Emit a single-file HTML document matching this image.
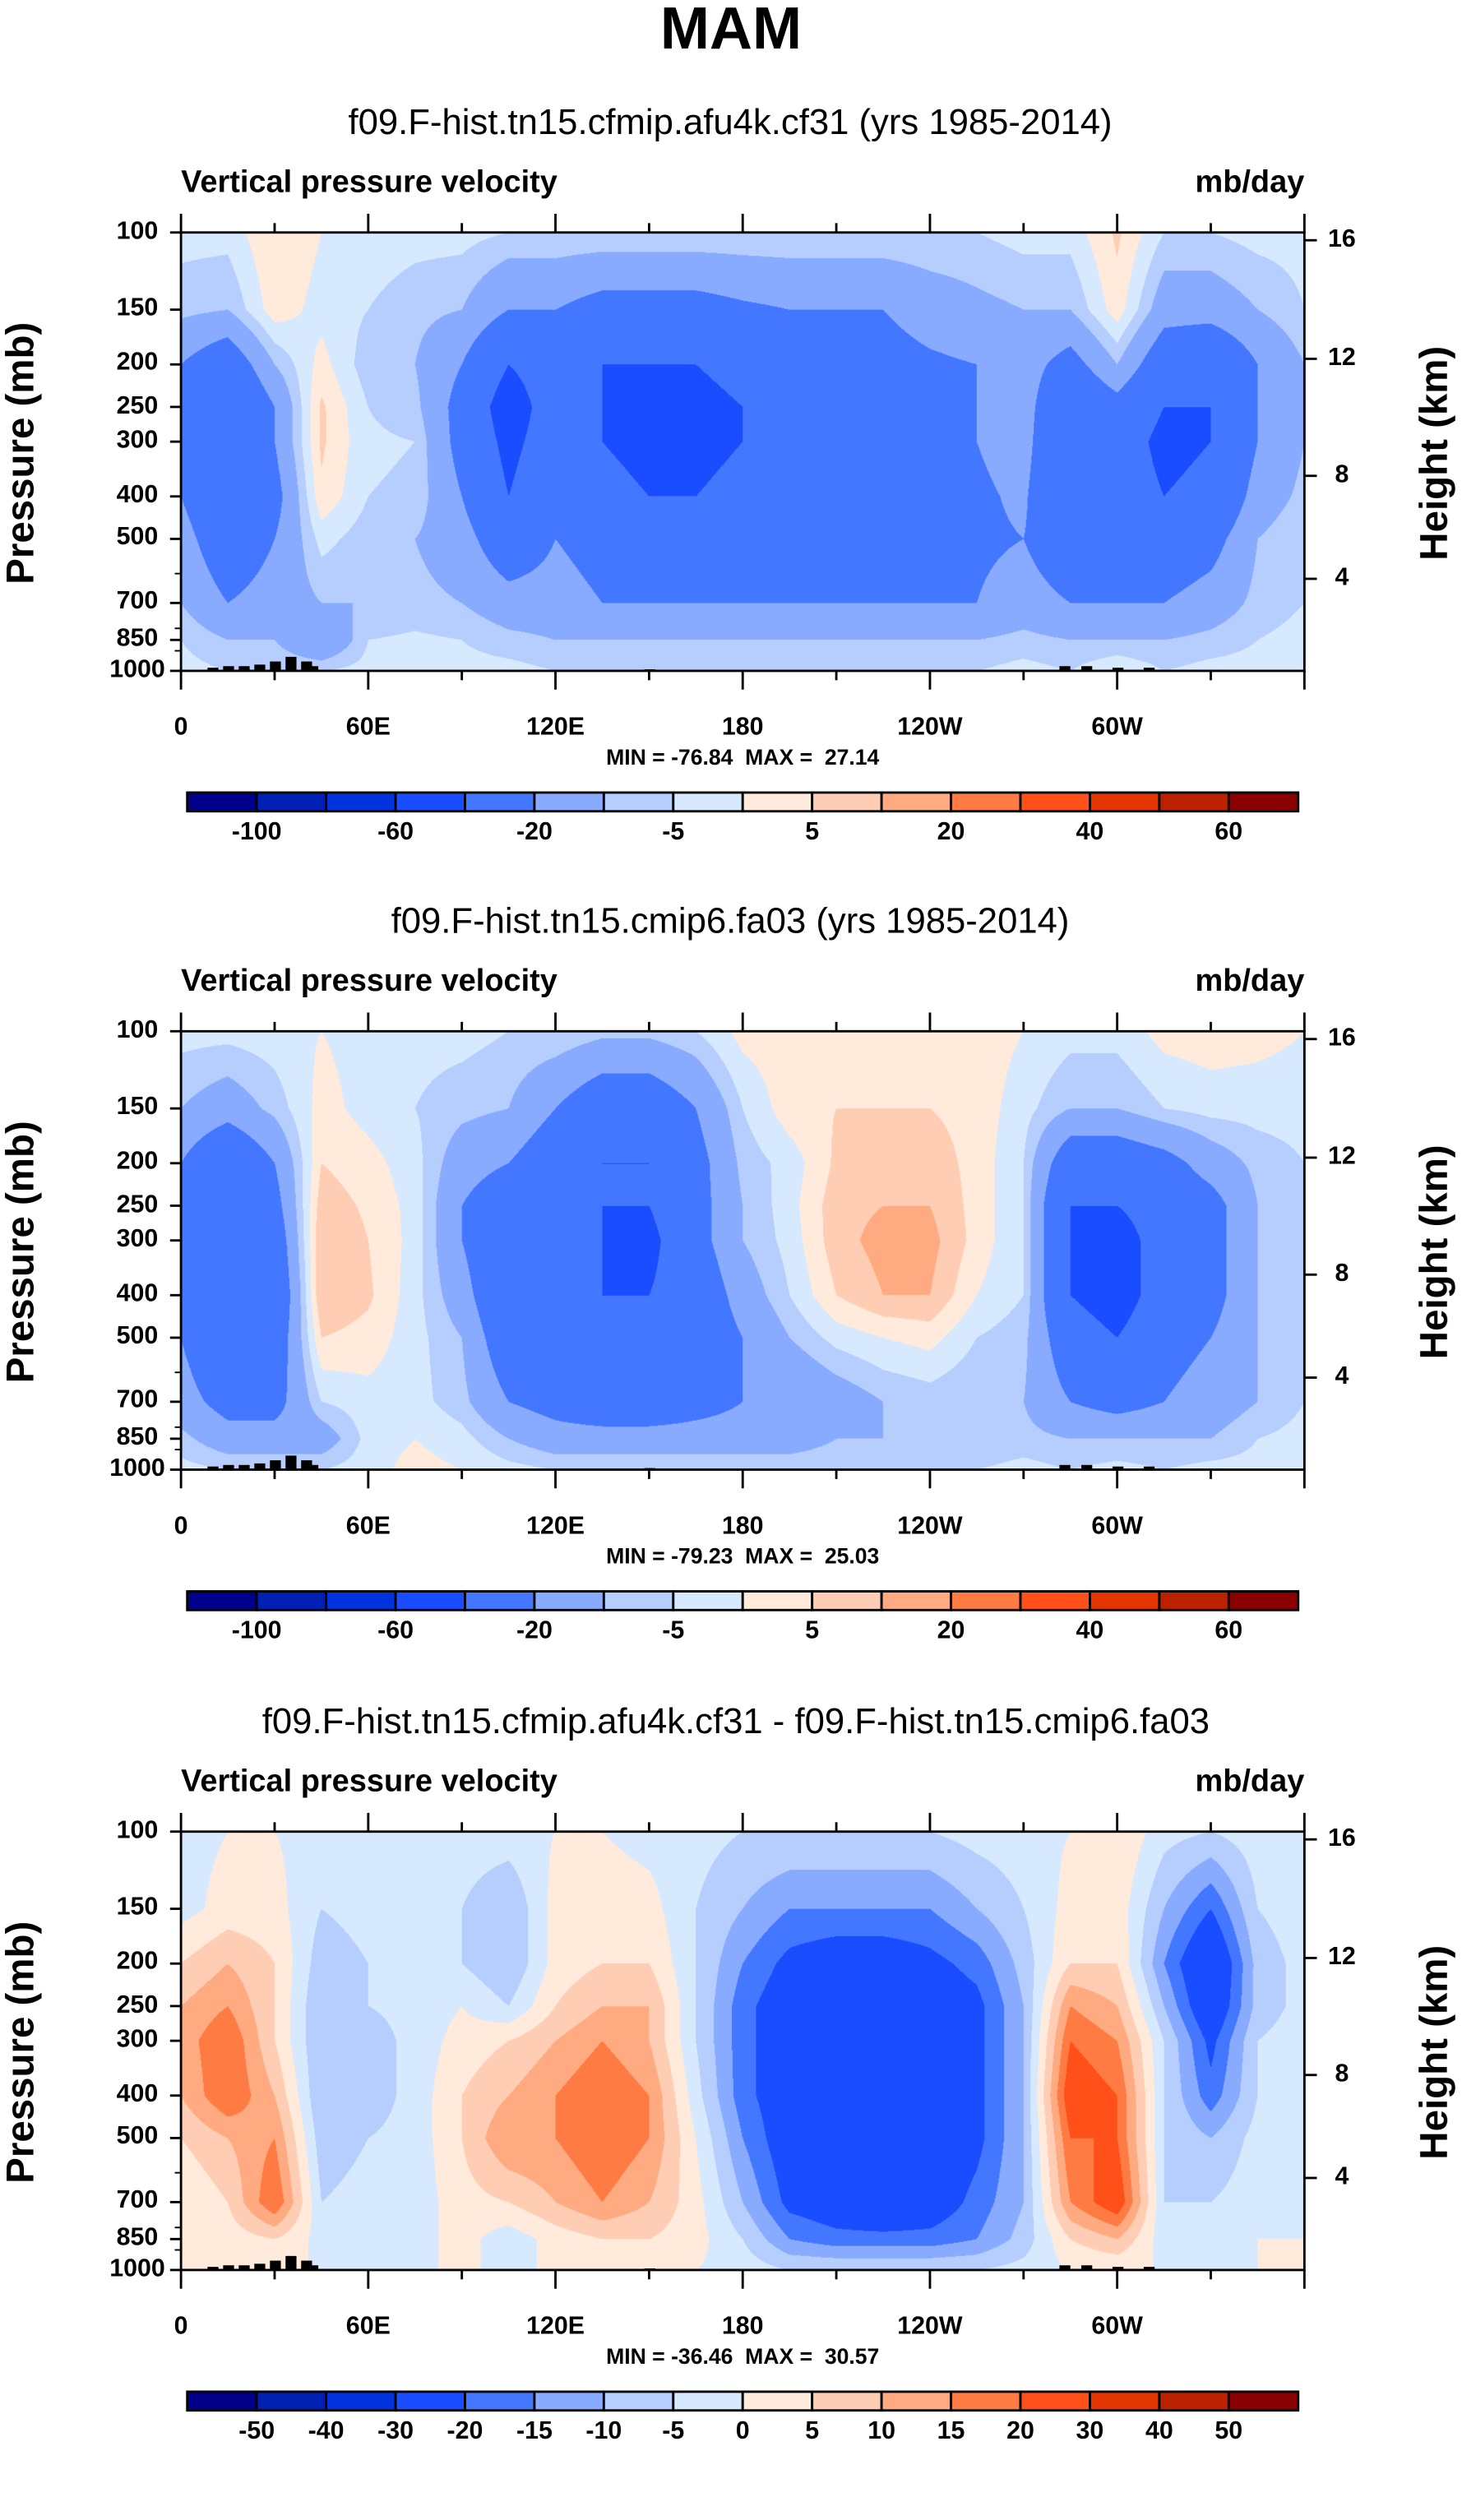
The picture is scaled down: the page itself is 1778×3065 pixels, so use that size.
<!DOCTYPE html>
<html><head><meta charset="utf-8">
<style>
html,body{margin:0;padding:0;background:#fff;}
#root{position:relative;width:937px;height:1567.3px;transform:scale(1.89755);transform-origin:0 0;font-family:"Liberation Sans",sans-serif;}
.t{position:absolute;white-space:pre;color:#000;}
.b{font-weight:bold;}
canvas{position:absolute;}
svg{position:absolute;left:0;top:0;overflow:visible;}
</style></head>
<body>
<div id="root">
<div class="t b" style="left:0;width:937px;text-align:center;top:-2px;font-size:38px;">MAM</div>
</div>
<script>
const levels=[100,150,200,250,300,400,500,700,850,1000];
const lons=[0,15,30,45,60,75,90,105,120,135,150,165,180,195,210,225,240,255,270,285,300,315,330,345,360];
const xTickLabels=["0","60E","120E","180","120W","60W"];
const xTickLons=[0,60,120,180,240,300];
const heightLabels=["16","12","8","4"];
const heightPos=[154,230,305,371];
const colors=["#00008a","#0020b4","#0033dd","#1a4dff","#4477ff","#88aaff","#b5cefd","#d7e9ff","#ffeadb","#ffcdb3","#ffaa80","#ff7b44","#ff5019","#e23500","#bc2200","#8a0000"];
const cnLevelsAbs=[-100,-80,-60,-40,-20,-10,-5,0,5,10,20,30,40,50,60];
const cnLevelsDiff=[-50,-40,-30,-20,-15,-10,-5,0,5,10,15,20,30,40,50];
const cbLabelsAbs=["-100","-60","-20","-5","5","20","40","60"];
const cbLabelsDiff=["-50","-40","-30","-20","-15","-10","-5","0","5","10","15","20","30","40","50"];
// values: one row per longitude, columns = pressure levels 100..1000
const panel1=[
[-3,-8,-20,-25,-25,-20,-15,-10,-5,-3],[-3,-10,-30,-40,-40,-35,-30,-20,-10,-5],[5,3,-10,-20,-20,-25,-20,-15,-10,-5],[0,-2,2,6,6,4,-3,-10,-20,-5],
[-2,-5,-8,-5,-4,-5,-8,-10,-5,-3],[-3,-8,-10,-8,-5,-6,-10,-8,-4,-2],[-3,-10,-20,-25,-25,-20,-15,-10,-5,-3],[-5,-20,-40,-50,-45,-40,-30,-15,-8,-3],
[-5,-20,-30,-30,-30,-25,-20,-15,-10,-5],[-5,-25,-40,-40,-40,-35,-25,-20,-10,-5],[-5,-25,-40,-45,-45,-40,-30,-20,-10,-5],[-5,-25,-40,-45,-45,-40,-30,-20,-10,-5],
[-5,-22,-35,-40,-40,-35,-25,-20,-10,-5],[-5,-20,-30,-35,-35,-30,-25,-20,-10,-5],[-5,-20,-30,-30,-30,-25,-22,-20,-10,-5],[-5,-20,-25,-25,-25,-22,-22,-20,-10,-5],
[-5,-15,-22,-22,-22,-22,-22,-20,-10,-5],[-5,-12,-20,-20,-20,-22,-22,-20,-10,-5],[-3,-10,-15,-15,-15,-18,-20,-15,-8,-3],[-3,-10,-25,-35,-40,-40,-30,-20,-10,-5],
[6,3,-10,-25,-30,-30,-25,-20,-10,0],[-5,-15,-30,-40,-45,-40,-30,-20,-10,-5],[-5,-15,-35,-40,-40,-35,-25,-15,-8,-3],[-3,-10,-20,-20,-20,-15,-10,-8,-5,-3],
[-3,-5,-10,-10,-10,-8,-5,-5,-3,-2]];
const panel2=[
[-3,-10,-20,-25,-25,-25,-20,-15,-8,-3],[-3,-15,-35,-40,-40,-40,-35,-25,-15,-5],[-2,-8,-20,-25,-30,-35,-30,-25,-15,-5],[0,2,5,8,10,10,5,-5,-15,-5],
[-2,-2,2,4,5,6,3,-2,-3,-2],[-3,-5,-3,-2,-2,-3,-3,-3,0,2],[-3,-8,-15,-20,-20,-15,-10,-8,-3,0],[-5,-10,-20,-30,-35,-35,-30,-20,-10,-3],
[-5,-20,-30,-35,-40,-40,-35,-25,-15,-5],[-8,-30,-40,-40,-40,-40,-40,-30,-15,-5],[-8,-30,-40,-40,-45,-40,-40,-30,-15,-5],[-5,-20,-25,-25,-25,-30,-30,-25,-15,-5],
[2,-5,-8,-10,-10,-15,-20,-20,-15,-5],[3,3,-3,-2,-3,-5,-10,-20,-15,-5],[3,5,6,8,8,5,-3,-15,-10,-5],[3,5,8,10,12,10,0,-10,-10,-5],
[3,5,8,10,12,10,2,-8,-10,-5],[3,3,3,3,3,0,-5,-10,-10,-5],[0,-3,-5,-5,-5,-5,-8,-10,-8,-3],[-3,-10,-30,-40,-40,-40,-30,-20,-10,-5],
[-3,-10,-30,-40,-50,-50,-40,-25,-10,-3],[2,-5,-25,-30,-30,-30,-25,-20,-10,-5],[3,-3,-15,-25,-25,-25,-20,-15,-10,-3],[2,-3,-8,-10,-10,-10,-10,-10,-5,-3],
[0,-3,-5,-5,-5,-5,-5,-5,-3,-2]];
const panel3=[
[-2,-2,5,10,12,10,5,0,0,0],[0,2,10,15,20,20,10,5,2,0],[0,2,5,5,5,10,15,20,5,0],[-2,-5,-8,-10,-10,-10,-8,-5,-2,0],
[-2,-3,-5,-5,-8,-8,-5,-3,-2,0],[-2,-3,-3,-3,-3,-3,-3,-3,-2,0],[-2,-5,-5,0,2,5,5,3,2,0],[-2,-10,-10,-5,5,10,15,5,-3,0],
[0,2,2,5,10,15,15,10,2,0],[0,3,5,10,15,20,20,15,5,0],[-2,2,5,10,10,15,15,10,5,0],[-3,-5,-5,-5,-5,-3,0,2,2,0],
[-5,-10,-15,-18,-18,-18,-15,-10,-5,-2],[-5,-15,-22,-25,-25,-25,-25,-22,-15,-5],[-5,-15,-25,-27,-28,-28,-28,-25,-18,-5],[-5,-15,-25,-27,-28,-28,-28,-28,-18,-5],
[-5,-15,-22,-25,-25,-27,-27,-25,-18,-5],[-3,-10,-18,-22,-22,-22,-22,-18,-15,-5],[-2,-5,-8,-10,-10,-10,-10,-10,-8,-3],[0,2,5,15,20,25,20,15,5,0],
[5,3,5,10,15,20,20,25,10,0],[-3,-10,-15,-10,-5,-5,-5,-5,-3,0],[-5,-20,-30,-28,-22,-18,-10,-5,-3,0],[-2,-5,-8,-8,-5,-5,-3,-2,0,0],
[0,-2,-3,-3,-2,-2,-2,0,0,0]];
const subtitles=["f09.F-hist.tn15.cfmip.afu4k.cf31 (yrs 1985-2014)","f09.F-hist.tn15.cmip6.fa03 (yrs 1985-2014)","f09.F-hist.tn15.cfmip.afu4k.cf31 - f09.F-hist.tn15.cmip6.fa03"];
const minmax=["MIN = -76.84  MAX =  27.14","MIN = -79.23  MAX =  25.03","MIN = -36.46  MAX =  30.57"];

const root=document.getElementById('root');
const PX0=116,PX1=836,PW=720,PY0=149,PH=281;
function yOfP(p,off){return off+PY0+PH*Math.log10(p/100);}
function xOfLon(l){return PX0+PW*l/360;}
function hex(c){return [parseInt(c.substr(1,2),16),parseInt(c.substr(3,2),16),parseInt(c.substr(5,2),16)];}
const rgb=colors.map(hex);
function txt(s,x,y,size,bold,anchor,name){
  const d=document.createElement('div');
  d.className='t'+(bold?' b':'');
  d.textContent=s;d.style.fontSize=size+'px';
  d.style.top=(y-size*0.58)+'px';
  if(anchor==='middle'){d.style.left=(x-300)+'px';d.style.width='600px';d.style.textAlign='center';}
  else if(anchor==='end'){d.style.left=(x-600)+'px';d.style.width='600px';d.style.textAlign='right';}
  else d.style.left=x+'px';
  
  
  root.appendChild(d);return d;
}
function sample(grid,lon,p){
  let fi=lon/15;let i=Math.min(23,Math.floor(fi));let fx=fi-i;
  let lp=Math.log10(p);let j=0;
  while(j<levels.length-2&&Math.log10(levels[j+1])<lp)j++;
  let a=Math.log10(levels[j]),b=Math.log10(levels[j+1]);
  let fy=Math.max(0,Math.min(1,(lp-a)/(b-a)));
  let v00=grid[i][j],v10=grid[i+1][j],v01=grid[i][j+1],v11=grid[i+1][j+1];
  return (v00*(1-fx)+v10*fx)*(1-fy)+(v01*(1-fx)+v11*fx)*fy;
}
function colorIdx(v,lv){let k=0;while(k<lv.length&&v>=lv[k])k++;return k;}
const NS='http://www.w3.org/2000/svg';
const svg=document.createElementNS(NS,'svg');
svg.setAttribute('width','937');svg.setAttribute('height','1568');

function line(x1,y1,x2,y2,w,name){const l=document.createElementNS(NS,'line');l.setAttribute('x1',x1);l.setAttribute('y1',y1);l.setAttribute('x2',x2);l.setAttribute('y2',y2);l.setAttribute('stroke','#000');l.setAttribute('stroke-width',w);


svg.appendChild(l);return l;}
function rect(x,y,w,h,fill,stroke,name){const r=document.createElementNS(NS,'rect');r.setAttribute('x',x);r.setAttribute('y',y);r.setAttribute('width',w);r.setAttribute('height',h);r.setAttribute('fill',fill);if(stroke){r.setAttribute('stroke',stroke);r.setAttribute('stroke-width',1.5);}


svg.appendChild(r);return r;}

const panels=[panel1,panel2,panel3];
const offs=[0,512,1025];
const topo=[[10,2],[15,3],[20,3],[25,4],[30,6],[35,9],[40,6],[42,3],[283,3],[290,3],[300,2],[310,2],[150,1]];
panels.forEach((grid,pi)=>{
  const off=offs[pi];
  const lv=pi===2?cnLevelsDiff:cnLevelsAbs;
  const cv=document.createElement('canvas');
  const S=2;cv.width=PW*S;cv.height=PH*S;
  cv.style.left=PX0+'px';cv.style.top=(PY0+off)+'px';cv.style.width=PW+'px';cv.style.height=PH+'px';
  
  
  const ctx=cv.getContext('2d');const img=ctx.createImageData(cv.width,cv.height);
  for(let y=0;y<cv.height;y++){
    const p=100*Math.pow(10,(y+0.5)/cv.height);
    for(let x=0;x<cv.width;x++){
      const lon=360*(x+0.5)/cv.width;
      const c=rgb[colorIdx(sample(grid,lon,p),lv)];
      const o=(y*cv.width+x)*4;img.data[o]=c[0];img.data[o+1]=c[1];img.data[o+2]=c[2];img.data[o+3]=255;
    }
  }
  ctx.putImageData(img,0,0);
  root.appendChild(cv);
  topo.forEach(t=>{rect(xOfLon(t[0])-3,PY0+off+PH-t[1],7,t[1],'#000',null,'topography-block');});
  rect(PX0,PY0+off,PW,PH,'none','#000','plot-frame-'+(pi+1));
  txt(subtitles[pi],468,78+off,23,false,'middle','subtitle-'+(pi+1));
  txt('Vertical pressure velocity',116,118+off,20,true,'start','variable-label');
  txt('mb/day',836,118+off,20,true,'end','units-label');
  levels.forEach(p=>{const y=yOfP(p,off);line(PX0-7,y,PX0,y,1.5,'pressure-tick');txt(String(p),PX0-28,y,16,true,'middle','pressure-tick-label');});
  [600,800,900].forEach(p=>{const y=yOfP(p,off);line(PX0-4,y,PX0,y,1,'pressure-minor-tick');});
  heightPos.forEach((hy,k)=>{const y=hy+off;line(PX1,y,PX1+8,y,1.5,'height-tick');txt(heightLabels[k],PX1+24,y,16,true,'middle','height-tick-label');});
  for(let l=0;l<=360;l+=30){const x=xOfLon(l);const maj=l%60===0;
    line(x,PY0+off-(maj?12:6),x,PY0+off,1.5,'lon-top-tick');line(x,PY0+off+PH,x,PY0+off+PH+(maj?12:6),1.5,'lon-bottom-tick');}
  xTickLons.forEach((l,k)=>txt(xTickLabels[k],xOfLon(l),467+off,16,true,'middle','lon-tick-label'));
  txt(minmax[pi],476,485+off,14,true,'middle','min-max-label');
  const ya=txt('Pressure (mb)',14,290+off,25,true,'middle','y-axis-title');ya.style.transform='rotate(-90deg)';
  const yb=txt('Height (km)',920,290+off,25,true,'middle','right-axis-title');yb.style.transform='rotate(-90deg)';
  const cb0=120,cbw=44.5,cby=508+off;
  colors.forEach((c,k)=>rect(cb0+k*cbw,cby,cbw,12,c,'#000','colorbar-box'));
  const labs=pi===2?cbLabelsDiff:cbLabelsAbs;
  labs.forEach((s,k)=>{const b=pi===2?k+1:2*k+1;txt(s,cb0+b*cbw,534+off,16,true,'middle','colorbar-label');});
});
root.appendChild(svg);
</script>
</body></html>
